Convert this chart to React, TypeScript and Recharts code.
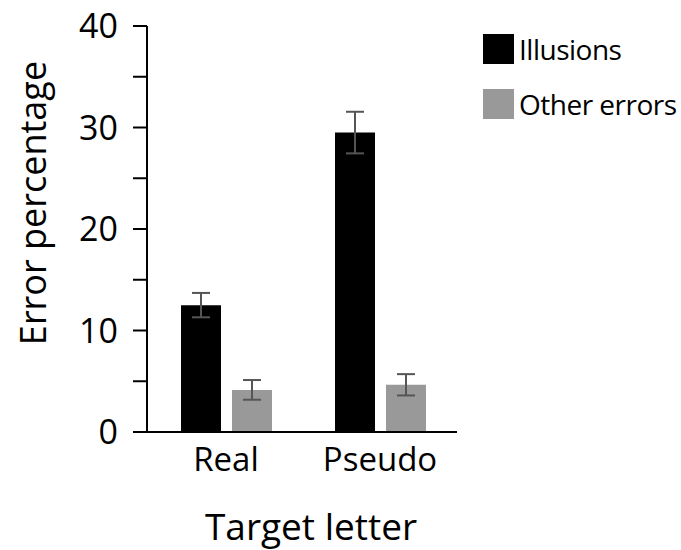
import React from 'react';
import { BarChart, Bar, XAxis, YAxis, ErrorBar } from 'recharts';

const categories = ['Real', 'Pseudo'];
const illusions = [12.5, 29.5];
const illusionsErr = [1.2, 2.05];
const otherErrors = [4.15, 4.65];
const otherErr = [0.97, 1.05];
const yTicks = [0, 5, 10, 15, 20, 25, 30, 35, 40];
const seriesNames = ['Illusions', 'Other errors'];
const seriesColors = ['#000000', '#999999'];

const data = categories.map((c, i) => ({
  name: c,
  illusions: illusions[i],
  illusionsErr: illusionsErr[i],
  other: otherErrors[i],
  otherErr: otherErr[i],
}));

const FONT = '"Open Sans", Lato, sans-serif';

const LegendBox = () => (
  <div style={{ position: 'absolute', left: 483, top: 34, fontFamily: FONT }}>
    {seriesNames.map((label, i) => (
      <div key={label} style={{ display: 'flex', alignItems: 'center', height: 30, marginBottom: 25 }}>
        <div style={{ width: 31, height: 30, background: seriesColors[i], marginRight: 5 }} />
        <span style={{ fontSize: 28, letterSpacing: -0.5, color: '#000', lineHeight: '30px', whiteSpace: 'nowrap' }}>{label}</span>
      </div>
    ))}
  </div>
);

export default function App() {
  return (
    <div style={{ position: 'absolute', left: 0, top: 0, width: 681, height: 550, background: '#fff', overflow: 'hidden' }}>
      <BarChart
        width={681}
        height={550}
        data={data}
        margin={{ top: 26, right: 224, bottom: 88, left: 0 }}
        barSize={40}
        barGap={11}
      >
        <XAxis
          dataKey="name"
          interval={0}
          height={30}
          axisLine={{ stroke: '#000', strokeWidth: 2 }}
          tickLine={false}
          tickSize={0}
          tickMargin={16}
          padding={{ left: 2, right: 0 }}
          tick={{ fill: '#000', fontSize: 33, fontFamily: FONT }}
          label={{
            content: () => (
              <text x={311} y={540} textAnchor="middle" fontSize={37} fontFamily={FONT} fill="#000">
                Target letter
              </text>
            ),
          }}
        />
        <YAxis
          width={147}
          domain={[0, 40]}
          ticks={yTicks}
          interval={0}
          tickFormatter={(v: number) => (v % 10 === 0 ? String(v) : '')}
          axisLine={{ stroke: '#000', strokeWidth: 2 }}
          tickLine={{ stroke: '#000', strokeWidth: 2 }}
          tickSize={14}
          tickMargin={15}
          tick={{ fill: '#000', fontSize: 34, fontFamily: FONT }}
          label={{
            content: () => (
              <text
                x={32}
                y={203}
                transform="rotate(-90,32,203)"
                textAnchor="middle"
                dominantBaseline="central"
                fontSize={36}
                fontFamily={FONT}
                fill="#000"
              >
                Error percentage
              </text>
            ),
          }}
        />
        <Bar dataKey="illusions" name="Illusions" fill="#000000" isAnimationActive={false}>
          <ErrorBar dataKey="illusionsErr" width={9} stroke="#555555" strokeWidth={2} />
        </Bar>
        <Bar dataKey="other" name="Other errors" fill="#999999" isAnimationActive={false}>
          <ErrorBar dataKey="otherErr" width={9} stroke="#555555" strokeWidth={2} />
        </Bar>
      </BarChart>
      <LegendBox />
    </div>
  );
}
